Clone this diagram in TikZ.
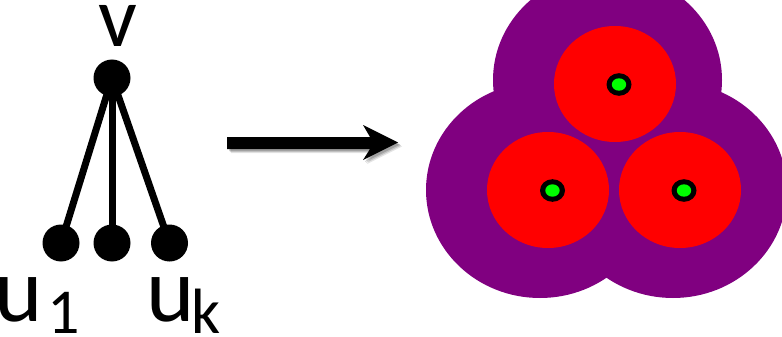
\documentclass[tikz,border=0pt]{standalone}
\usepackage{fontspec}
\setmainfont{Carlito}
\definecolor{blobpurple}{HTML}{800080}
\definecolor{blobred}{HTML}{FF0000}
\definecolor{dotgreen}{HTML}{00FF00}
\begin{document}
\begin{tikzpicture}[x=1pt,y=-1pt,
  vertex/.style={circle,fill=black,inner sep=0pt,minimum size=37pt},
  edge/.style={line width=7pt},
  biglabel/.style={anchor=base,inner sep=0pt,font=\fontsize{92}{92}\selectfont},
  sublabel/.style={anchor=base,inner sep=0pt,font=\fontsize{64}{64}\selectfont},
  outer/.style={fill=blobpurple},
  inner/.style={fill=blobred}]
\useasboundingbox (0,0) rectangle (782,337);

% star graph: v with leaves u_1 ... u_k
\node[vertex] (v) at (112,78) {};
\node[vertex] (u1) at (61,243) {};
\node[vertex] (u2) at (112,243) {};
\node[vertex] (uk) at (169.5,243) {};
\draw[edge] (v.center) -- (u1.center);
\draw[edge] (v.center) -- (u2.center);
\draw[edge] (v.center) -- (uk.center);

\node[biglabel,font=\fontsize{86}{86}\selectfont] (lv) at (117.5,47) {v};
\node[biglabel] (lu1) at (19,321) {u};
\node[sublabel] (l1) at (63.5,333) {1};
\node[biglabel] (luk) at (171,321) {u};
\node[sublabel] (lk) at (206,333) {k};

% arrow with a soft shadow
\foreach \d/\o in {4/0.10,3/0.14,2/0.18}{
  \fill[black,opacity=\o,shift={(\d,\d)}]
    (227,137) -- (370,137) -- (363,125) -- (398,142.5) -- (363,160) -- (370,149) -- (227,149) -- cycle;
}
\fill[black] (227,137) -- (370,137) -- (363,125) -- (398,142.5) -- (363,160) -- (370,149) -- (227,149) -- cycle;

% covering disks
\fill[outer] (607.5,80) ellipse [x radius=114.5pt, y radius=108pt];
\fill[outer] (540,190) ellipse [x radius=114pt, y radius=108pt];
\fill[outer] (673,190) ellipse [x radius=114pt, y radius=108pt];

\fill[inner] (615,84) ellipse [x radius=61pt, y radius=58pt];
\fill[inner] (548,190) ellipse [x radius=61pt, y radius=58pt];
\fill[inner] (680,190) ellipse [x radius=61pt, y radius=58pt];

\foreach \p in {(619,84.5),(552.5,190.5),(684,190.5)}{
  \fill[black] \p ellipse [x radius=12.5pt, y radius=11.3pt];
  \fill[dotgreen] \p ellipse [x radius=7.2pt, y radius=6.2pt];
}
\end{tikzpicture}
\end{document}
